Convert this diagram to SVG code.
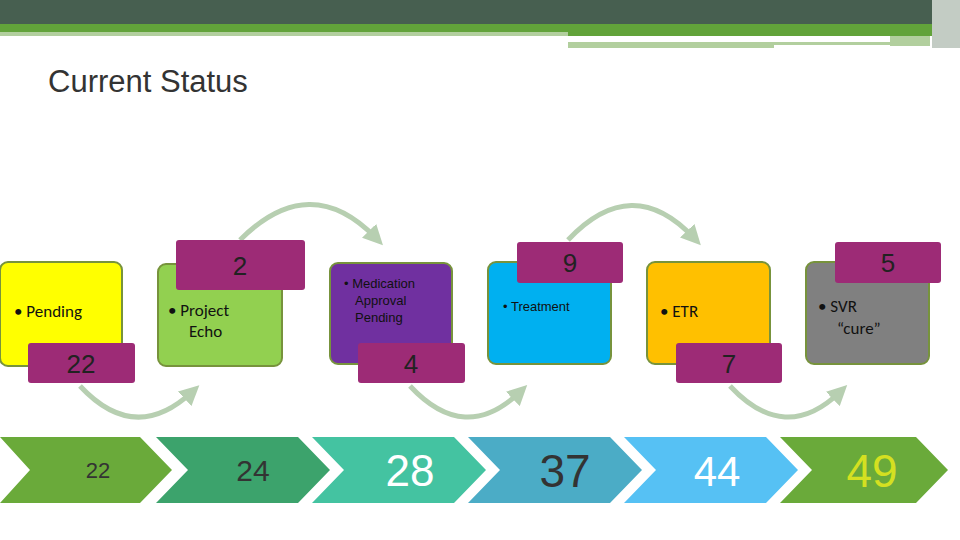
<svg xmlns="http://www.w3.org/2000/svg" width="960" height="540" viewBox="0 0 960 540">
<style>
.box{stroke:#77933c;stroke-width:2}
.lab{fill:#9d2b76}
.num{font-family:"Liberation Sans",Arial,sans-serif;fill:#222;text-anchor:middle;font-size:26px}
.t{font-family:Calibri,"Liberation Sans",sans-serif;font-size:17px;fill:#111}
.ts{font-family:"Liberation Sans",sans-serif;font-size:13px;fill:#111}
.arc{fill:none;stroke:#b7cfb1;stroke-width:5;marker-end:url(#ah)}
.big{font-family:"Liberation Sans",Arial,sans-serif;text-anchor:middle}
</style>
<defs><marker id="ah" markerWidth="4" markerHeight="4" refX="2" refY="2" orient="auto"><path d="M0,0 L4,2 L0,4 Z" fill="#b7cfb1"/></marker></defs>
<rect width="960" height="540" fill="#fff"/>
<g id="header">
<rect x="0" y="0" width="960" height="24" fill="#475f50"/>
<rect x="0" y="24" width="932" height="12" fill="#62a33a"/>
<rect x="0" y="32" width="568" height="4" fill="#b2cf9e"/>
<rect x="568" y="42" width="206" height="6" fill="#b2cf9e"/>
<rect x="774" y="42" width="116" height="3" fill="#b2cf9e"/>
<rect x="890" y="36" width="40" height="10" fill="#b2cf9e"/>
<rect x="932" y="0" width="28" height="48" fill="#c3ccc4"/>
<text x="48" y="92" font-family="'Liberation Sans',sans-serif" font-size="31" fill="#333">Current Status</text>
</g>
<g id="connectors">
<path class="arc" d="M240,240 Q310,170 376,238"/>
<path class="arc" d="M568,240 Q632,172 694,238"/>
<path class="arc" d="M80,386 Q135,445 192,392"/>
<path class="arc" d="M410,386 Q465,445 520,392"/>
<path class="arc" d="M730,386 Q785,445 840,392"/>
</g>
<g id="pending"><rect class="box" x="0" y="262" width="122" height="104" rx="8" fill="#ffff00"/><text class="t" x="14" y="317">• Pending</text><rect class="lab" x="28" y="343" width="107" height="40" rx="3"/><text class="num" x="81" y="373">22</text></g>
<g id="echo"><rect class="box" x="158" y="264" width="124" height="102" rx="8" fill="#92d050"/><text class="t" x="168" y="316">• Project</text><text class="t" x="189" y="337">Echo</text><rect class="lab" x="176" y="240" width="129" height="50" rx="3"/><text class="num" x="240" y="275">2</text></g>
<g id="med"><rect class="box" x="330" y="263" width="122" height="101" rx="8" fill="#7030a0"/><text class="ts" x="344" y="288">• Medication</text><text class="ts" x="355" y="305">Approval</text><text class="ts" x="355" y="322">Pending</text><rect class="lab" x="358" y="343" width="107" height="40" rx="3"/><text class="num" x="411" y="373">4</text></g>
<g id="treat"><rect class="box" x="488" y="262" width="123" height="102" rx="8" fill="#00b0f0"/><text class="ts" x="503" y="311" font-size="15">• Treatment</text><rect class="lab" x="517" y="242" width="106" height="41" rx="3"/><text class="num" x="570" y="272">9</text></g>
<g id="etr"><rect class="box" x="647" y="262" width="123" height="102" rx="8" fill="#ffc000"/><text class="t" x="660" y="317">• ETR</text><rect class="lab" x="676" y="343" width="106" height="40" rx="3"/><text class="num" x="729" y="373">7</text></g>
<g id="svr"><rect class="box" x="806" y="262" width="123" height="102" rx="8" fill="#808080"/><text class="t" x="818" y="312">• SVR</text><text class="t" x="837" y="334">“cure”</text><rect class="lab" x="835" y="242" width="106" height="41" rx="3"/><text class="num" x="888" y="272">5</text></g>
<g id="chevrons">
<polygon points="0,437 140,437 172,470 140,503 0,503 30,470" fill="#6aaa3a"/>
<polygon points="156,437 298,437 330,470 298,503 156,503 188,470" fill="#3ca36c"/>
<polygon points="312,437 454,437 486,470 454,503 312,503 344,470" fill="#44c3a1"/>
<polygon points="468,437 610,437 642,470 610,503 468,503 500,470" fill="#4bacc6"/>
<polygon points="624,437 766,437 798,470 766,503 624,503 656,470" fill="#56c1f4"/>
<polygon points="780,437 916,437 948,470 916,503 780,503 812,470" fill="#6aaa3a"/>
<text class="big" x="98" y="478" font-size="22" fill="#333">22</text>
<text class="big" x="253" y="481" font-size="30" fill="#333">24</text>
<text class="big" x="410" y="486" font-size="44" fill="#fff">28</text>
<text class="big" x="565" y="487" font-size="46" fill="#333">37</text>
<text class="big" x="717" y="486" font-size="42" fill="#fff">44</text>
<text class="big" x="872" y="487" font-size="46" fill="#d4e021">49</text>
</g>
</svg>
